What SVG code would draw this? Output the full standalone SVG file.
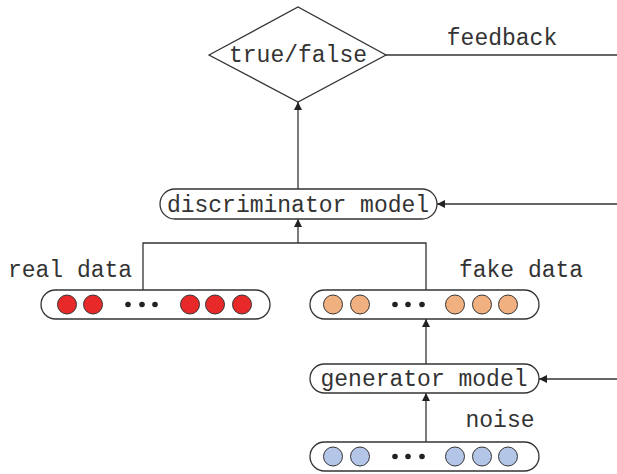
<svg xmlns="http://www.w3.org/2000/svg" width="617" height="474" viewBox="0 0 617 474">
<defs>
<marker id="ah" viewBox="0 0 10 10" refX="10" refY="5" markerWidth="8" markerHeight="8" markerUnits="userSpaceOnUse" orient="auto">
<path d="M0,0 L10,5 L0,10 z" fill="#222"/>
</marker>
</defs>
<style>
.t{font-family:"Liberation Mono","DejaVu Sans Mono",monospace;font-size:23px;fill:#333;}
.box{fill:#fff;stroke:#333;stroke-width:1.3;}
.ln{fill:none;stroke:#333;stroke-width:1.3;}
.r{fill:#e8292a;stroke:#333;stroke-width:1;}
.o{fill:#f0b080;stroke:#333;stroke-width:1;}
.b{fill:#b4c6e7;stroke:#333;stroke-width:1;}
.d{fill:#222;}
</style>
<rect width="617" height="474" fill="#fff"/>
<g id="connectors">
<line class="ln" x1="386" y1="55" x2="617" y2="55"/>
<line class="ln" x1="298" y1="189" x2="298" y2="102" marker-end="url(#ah)"/>
<line class="ln" x1="617" y1="204" x2="437" y2="204" marker-end="url(#ah)"/>
<line class="ln" x1="298" y1="243" x2="298" y2="219" marker-end="url(#ah)"/>
<polyline class="ln" points="143,290 143,243 426,243 426,290"/>
<line class="ln" x1="426" y1="364" x2="426" y2="319" marker-end="url(#ah)"/>
<line class="ln" x1="617" y1="379" x2="539" y2="379" marker-end="url(#ah)"/>
<line class="ln" x1="426" y1="442" x2="426" y2="393" marker-end="url(#ah)"/>
<text class="t" x="502" y="45" text-anchor="middle">feedback</text>
</g>
<g id="truefalse">
<polygon class="box" points="209,55 298,7 386,55 298,102"/>
<text class="t" x="298" y="62" text-anchor="middle">true/false</text>
</g>
<g id="discriminator">
<rect class="box" x="160" y="189" width="277" height="30" rx="15"/>
<text class="t" x="298" y="212" text-anchor="middle">discriminator model</text>
</g>
<g id="realdata">
<text class="t" x="70" y="277" text-anchor="middle">real data</text>
<rect class="box" x="41" y="290" width="229" height="29" rx="14.5"/>
<circle class="r" cx="67" cy="304.5" r="9.5"/>
<circle class="r" cx="93" cy="304.5" r="9.5"/>
<circle class="d" cx="128" cy="304.5" r="2.8"/>
<circle class="d" cx="142" cy="304.5" r="2.8"/>
<circle class="d" cx="155" cy="304.5" r="2.8"/>
<circle class="r" cx="190" cy="304.5" r="9.5"/>
<circle class="r" cx="215" cy="304.5" r="9.5"/>
<circle class="r" cx="242" cy="304.5" r="9.5"/>
</g>
<g id="fakedata">
<text class="t" x="521" y="277" text-anchor="middle">fake data</text>
<rect class="box" x="310" y="290" width="229" height="29" rx="14.5"/>
<circle class="o" cx="333" cy="304.5" r="9.5"/>
<circle class="o" cx="360" cy="304.5" r="9.5"/>
<circle class="d" cx="395" cy="304.5" r="2.8"/>
<circle class="d" cx="408" cy="304.5" r="2.8"/>
<circle class="d" cx="422" cy="304.5" r="2.8"/>
<circle class="o" cx="455" cy="304.5" r="9.5"/>
<circle class="o" cx="482" cy="304.5" r="9.5"/>
<circle class="o" cx="508" cy="304.5" r="9.5"/>
</g>
<g id="generator">
<rect class="box" x="310" y="364" width="229" height="29" rx="14.5"/>
<text class="t" x="424" y="386" text-anchor="middle">generator model</text>
</g>
<g id="noise">
<text class="t" x="500" y="427" text-anchor="middle">noise</text>
<rect class="box" x="310" y="442" width="229" height="29" rx="14.5"/>
<circle class="b" cx="333" cy="456.5" r="9.5"/>
<circle class="b" cx="360" cy="456.5" r="9.5"/>
<circle class="d" cx="395" cy="456.5" r="2.8"/>
<circle class="d" cx="408" cy="456.5" r="2.8"/>
<circle class="d" cx="422" cy="456.5" r="2.8"/>
<circle class="b" cx="455" cy="456.5" r="9.5"/>
<circle class="b" cx="482" cy="456.5" r="9.5"/>
<circle class="b" cx="508" cy="456.5" r="9.5"/>
</g>
</svg>
